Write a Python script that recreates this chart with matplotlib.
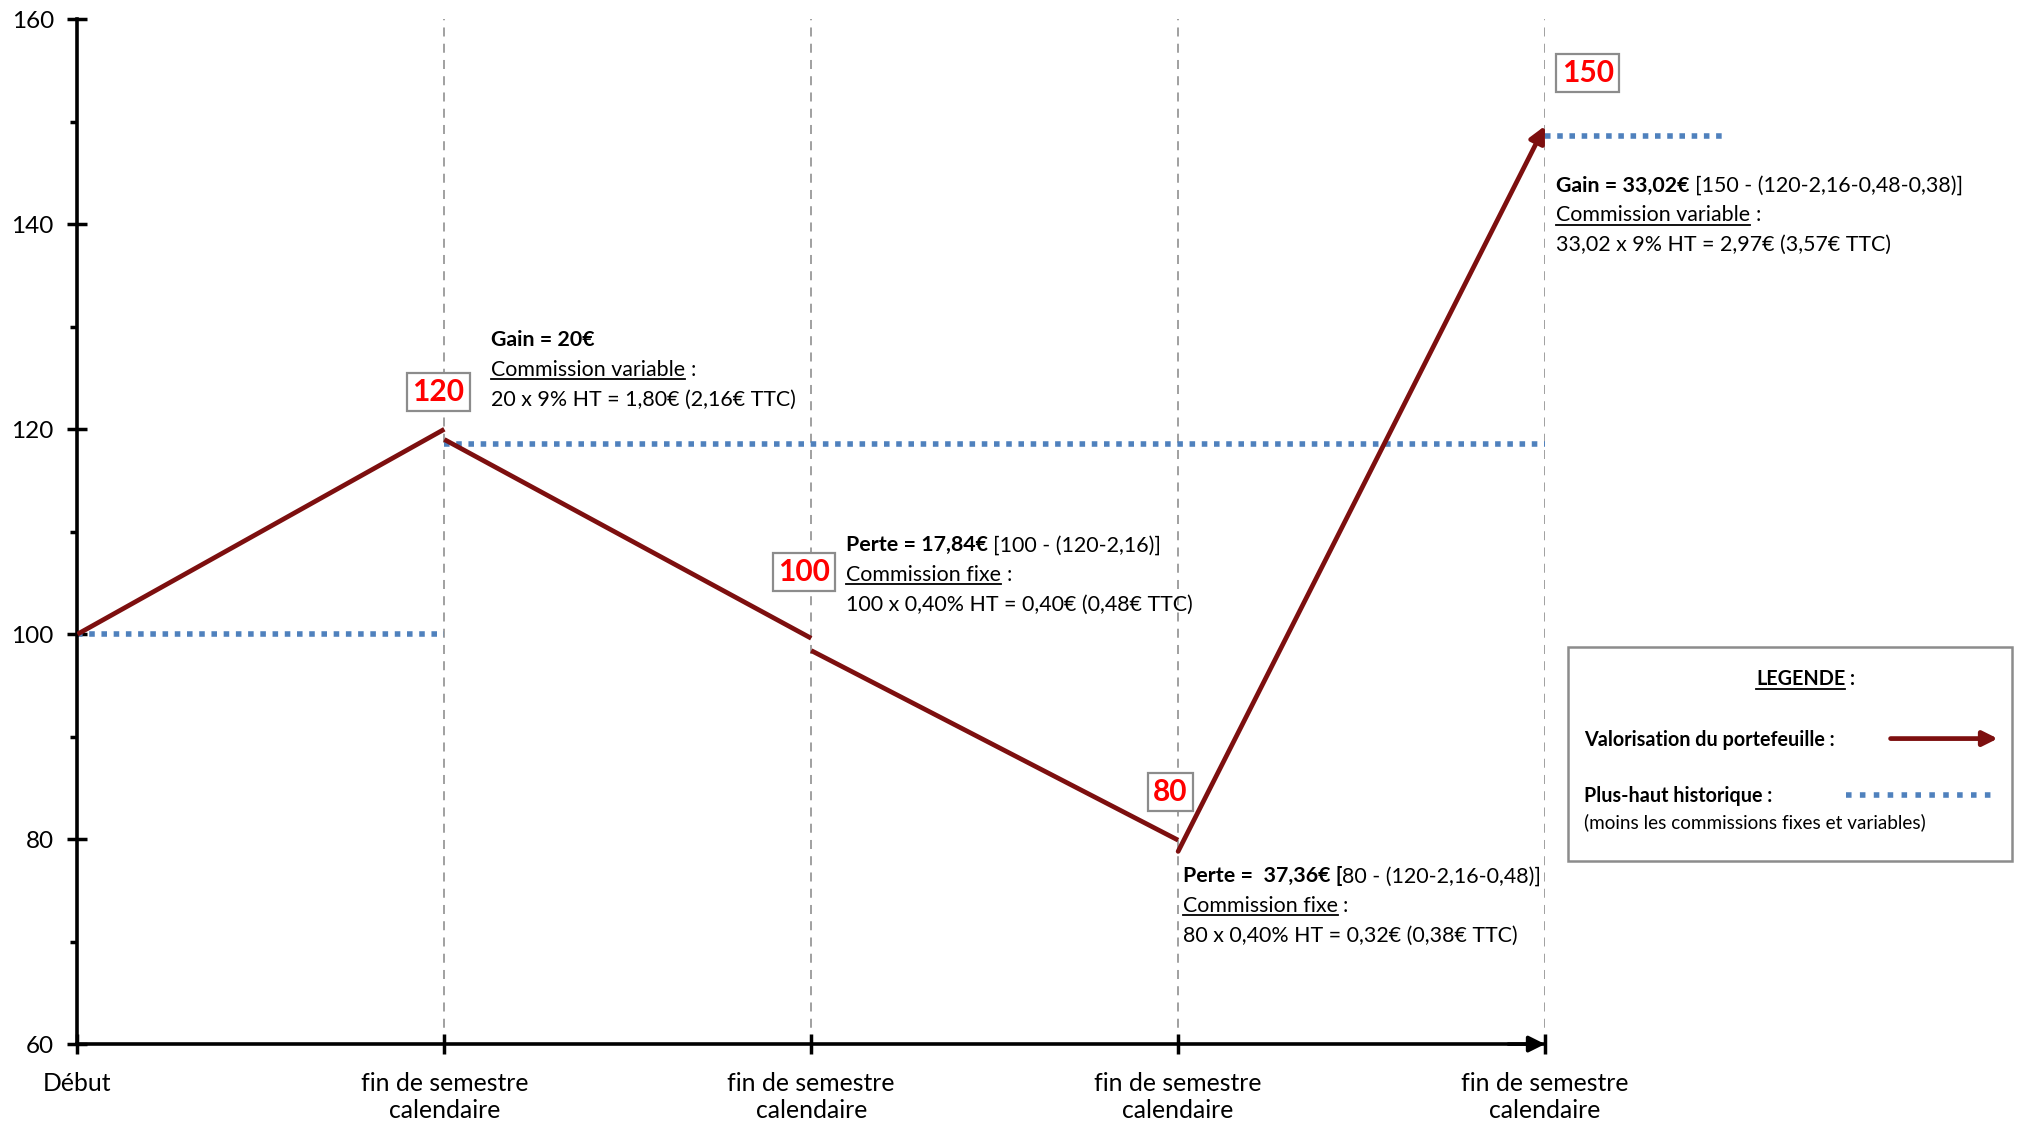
import matplotlib
matplotlib.use('Agg')
import matplotlib.pyplot as plt
from matplotlib.lines import Line2D
from matplotlib.patches import Rectangle, FancyArrowPatch
from matplotlib.transforms import IdentityTransform

plt.rcParams['font.family'] = ['Lato', 'DejaVu Sans']

# ---- data ----
x_labels = ['Début'] + ['fin de semestre\ncalendaire'] * 4
x_pos = [0, 1, 2, 3, 4]

# portfolio value, one segment per semester (start / end value)
seg_start = [100, 119.0, 98.4, 78.8]
seg_end = [120, 99.6, 79.9, 149.6]

# high-water mark (plus-haut historique)
high_levels = [100, 118.6, 148.6]
high_from = [0, 1, 4]
high_to = [1, 4, 4.5]

# red value boxes
box_values = ['120', '100', '80', '150']
box_x = [0.984, 1.981, 2.979, 4.116]
box_y = [123.6, 106.1, 84.6, 154.8]

# annotations: each line is a list of (text, weight, underline)
notes_x = [1.128, 2.095, 3.012, 4.03]
notes_y = [128.1, 108.1, 75.8, 143.2]
notes = [
    [[('Gain = 20€', 'bold', False)],
     [('Commission variable', 'normal', True), (' :', 'normal', False)],
     [('20 x 9% HT = 1,80€ (2,16€ TTC)', 'normal', False)]],
    [[('Perte = 17,84€', 'bold', False), (' [100 - (120-2,16)]', 'normal', False)],
     [('Commission fixe', 'normal', True), (' :', 'normal', False)],
     [('100 x 0,40% HT = 0,40€ (0,48€ TTC)', 'normal', False)]],
    [[('Perte =  37,36€ [', 'bold', False), ('80 - (120-2,16-0,48)]', 'normal', False)],
     [('Commission fixe', 'normal', True), (' :', 'normal', False)],
     [('80 x 0,40% HT = 0,32€ (0,38€ TTC)', 'normal', False)]],
    [[('Gain = 33,02€', 'bold', False), (' [150 - (120-2,16-0,48-0,38)]', 'normal', False)],
     [('Commission variable', 'normal', True), (' :', 'normal', False)],
     [('33,02 x 9% HT = 2,97€ (3,57€ TTC)', 'normal', False)]],
]
line_step = 2.9

red = '#7d0f0f'
blue = '#4f81bd'

fig = plt.figure(figsize=(20.22, 11.24), dpi=100)
ax = fig.add_axes([0.0383, 0.0711, 0.7258, 0.9117])
ax.set_xlim(0, 4)
ax.set_ylim(60, 160)

for s in ['top', 'right']:
    ax.spines[s].set_visible(False)
for s in ['left', 'bottom']:
    ax.spines[s].set_linewidth(2.6)

ax.set_yticks(range(60, 161, 20))
ax.set_yticks(range(70, 160, 20), minor=True)
ax.tick_params(axis='y', which='major', direction='inout', length=14, width=2.5, labelsize=17.5, pad=10)
ax.tick_params(axis='y', which='minor', direction='out', length=5, width=2.5)
ax.set_xticks(x_pos)
ax.set_xticklabels(x_labels)
ax.tick_params(axis='x', direction='inout', length=14, width=2.5, labelsize=17.8, pad=13)

# dashed verticals
ax.vlines(x_pos[1:], 60, 160, colors='#999999', linestyles=(0, (5, 4)), lw=1.3, zorder=1)

# x axis arrow
ax.annotate('', xy=(4, 60), xytext=(3.9, 60),
            arrowprops=dict(arrowstyle='-|>', color='black', lw=2.6, mutation_scale=24,
                            shrinkA=0, shrinkB=0), annotation_clip=False)

# high-water mark
for lvl, a, b in zip(high_levels, high_from, high_to):
    ax.plot([a, b], [lvl, lvl], color=blue, lw=4, linestyle=(0, (1, 1.2)),
            dash_capstyle='butt', clip_on=False, zorder=2)

# portfolio
for i in range(3):
    ax.plot([x_pos[i], x_pos[i + 1]], [seg_start[i], seg_end[i]], color=red, lw=3.4,
            solid_capstyle='butt', zorder=3)
ax.annotate('', xy=(x_pos[4], seg_end[3]), xytext=(x_pos[3], seg_start[3]),
            arrowprops=dict(arrowstyle='-|>', color=red, lw=3.4, mutation_scale=24,
                            shrinkA=0, shrinkB=0), annotation_clip=False, zorder=3)

# red value boxes
for v, bx, by in zip(box_values, box_x, box_y):
    ax.text(bx, by, v, color='red', fontweight='bold', fontsize=21.5, ha='center', va='center',
            bbox=dict(boxstyle='square,pad=0.17', fc='white', ec='#8c8c8c', lw=1.6), zorder=5)

renderer = fig.canvas.get_renderer()


def write_runs(x_px, y_px, runs, size):
    for text, weight, under in runs:
        if text.startswith(' '):
            x_px += size * fig.dpi / 72 * 0.25
            text = text.lstrip()
        t = fig.text(x_px, y_px, text, transform=IdentityTransform(), fontsize=size,
                     fontweight=weight, ha='left', va='baseline', zorder=6)
        bb = t.get_window_extent(renderer=renderer)
        if under:
            fig.add_artist(Line2D([bb.x0, bb.x1], [y_px - 3.5, y_px - 3.5], transform=IdentityTransform(),
                                  color='black', lw=1.3, zorder=7))
        x_px = bb.x1


for nx, ny, lines in zip(notes_x, notes_y, notes):
    for k, runs in enumerate(lines):
        px, py = ax.transData.transform((nx, ny - k * line_step))
        write_runs(px, py, runs, 15.4)

# legend box
fig.add_artist(Rectangle((0.7755, 0.2339), 0.2194, 0.1904, transform=fig.transFigure,
                         fc='white', ec='#8c8c8c', lw=1.8, zorder=4))


def fig_px(fx, fy):
    return fig.transFigure.transform((fx, fy))


px, py = fig_px(0.8685, 0.3905)
write_runs(px, py, [('LEGENDE', 'bold', True), (' :', 'bold', False)], 14.2)
px, py = fig_px(0.7832, 0.3365)
write_runs(px, py, [('Valorisation du portefeuille :', 'bold', False)], 14.2)
px, py = fig_px(0.7832, 0.2862)
write_runs(px, py, [('Plus-haut historique :', 'bold', False)], 14.2)
px, py = fig_px(0.7832, 0.2628)
write_runs(px, py, [('(moins les commissions fixes et variables)', 'normal', False)], 13.6)

fig.add_artist(FancyArrowPatch((0.935, 0.3429), (0.988, 0.3429), transform=fig.transFigure,
                               arrowstyle='-|>', mutation_scale=22, lw=3.4, color=red,
                               shrinkA=0, shrinkB=0, zorder=6))
fig.add_artist(Line2D([0.913, 0.988], [0.2924, 0.2924], transform=fig.transFigure, color=blue,
                      lw=4, linestyle=(0, (1, 1.5)), dash_capstyle='butt', zorder=6))

fig.savefig('out.png', dpi=100)
